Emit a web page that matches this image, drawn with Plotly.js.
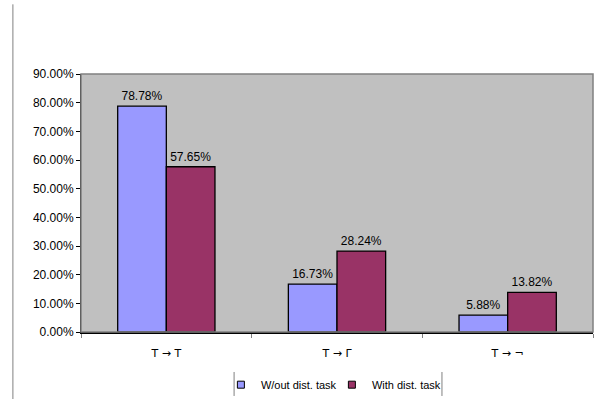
<!DOCTYPE html>
<html>
<head>
<meta charset="utf-8">
<script src="https://cdn.plot.ly/plotly-3.0.1.min.js"></script>
<style>html,body{margin:0;padding:0;background:#fff;}#chart{width:603px;height:399px;}</style>
</head>
<body>
<div id="chart"></div>
<script>
const categories = ["T \u2192 T", "T \u2192 \u0393", "T \u2192 \u00AC"];
const withoutTask = [0.7878, 0.1673, 0.0588];
const withTask = [0.5765, 0.2824, 0.1382];
const seriesNames = ["W/out dist. task", "With dist. task"];
const seriesColors = ["#9999FF", "#993366"];
const yTicks = [0, 0.1, 0.2, 0.3, 0.4, 0.5, 0.6, 0.7, 0.8, 0.9];

const font = {family: "Liberation Sans, Arial, sans-serif", size: 12, color: "#000"};
const legFont = {family: "Liberation Sans, Arial, sans-serif", size: 11, color: "#000"};
const catFont = {family: "DejaVu Sans, Liberation Sans, sans-serif", size: 11, color: "#000"};

const traces = [
  {type: "bar", name: seriesNames[0], x: categories, y: withoutTask, showlegend: false,
   marker: {color: seriesColors[0], line: {color: "#000", width: 1.3}},
   texttemplate: "%{y:.2%}", textposition: "outside", textfont: font, cliponaxis: false,
   hoverinfo: "none"},
  {type: "bar", name: seriesNames[1], x: categories, y: withTask, showlegend: false,
   marker: {color: seriesColors[1], line: {color: "#000", width: 1.3}},
   texttemplate: "%{y:.2%}", textposition: "outside", textfont: font, cliponaxis: false,
   hoverinfo: "none"},
  {type: "scatter", mode: "markers", name: seriesNames[0], x: [null], y: [null],
   marker: {symbol: "square", size: 7, color: seriesColors[0], line: {color: "#000", width: 1}}},
  {type: "scatter", mode: "markers", name: seriesNames[1], x: [null], y: [null],
   marker: {symbol: "square", size: 7, color: seriesColors[1], line: {color: "#000", width: 1}}}
];

const layout = {
  width: 603, height: 399,
  margin: {l: 81, r: 10, t: 74, b: 67, autoexpand: false},
  paper_bgcolor: "#fff",
  plot_bgcolor: "#C0C0C0",
  font: font,
  barmode: "group",
  bargap: 0.43,
  bargroupgap: 0,
  showlegend: true,
  legend: {orientation: "h", x: 0.49, xanchor: "center", y: -0.148, yanchor: "top",
           font: legFont, itemwidth: 30, entrywidth: 66, entrywidthmode: "pixels",
           tracegroupgap: 0, bgcolor: "rgba(0,0,0,0)"},
  xaxis: {type: "category", tickson: "boundaries", ticks: "outside", ticklen: 4,
          tickcolor: "#808080", showline: true, linecolor: "#000", linewidth: 1.5,
          showgrid: false, tickfont: catFont, ticklabelstandoff: 10, automargin: false,
          fixedrange: true},
  yaxis: {range: [0, 0.9], tickvals: yTicks, tickformat: ".2%", ticks: "outside",
          ticklen: 4, tickcolor: "#000", showline: true, linecolor: "#000", linewidth: 1,
          showgrid: false, zeroline: false, tickfont: font, automargin: false, fixedrange: true},
  shapes: [
    {type: "rect", xref: "paper", yref: "paper", x0: 0, x1: 1, y0: 0, y1: 1,
     line: {color: "#808080", width: 1.5}, layer: "above"},
    {type: "line", xref: "paper", yref: "paper", x0: -0.133, x1: -0.133, y0: -0.27, y1: 1.27,
     line: {color: "#808080", width: 1}},
    {type: "line", xref: "paper", yref: "paper", x0: 0.299, x1: 0.299, y0: -0.155, y1: -0.248,
     line: {color: "#808080", width: 1}},
    {type: "line", xref: "paper", yref: "paper", x0: 0.705, x1: 0.705, y0: -0.155, y1: -0.248,
     line: {color: "#808080", width: 1}}
  ]
};

Plotly.newPlot("chart", traces, layout, {displayModeBar: false, staticPlot: true});
</script>
</body>
</html>
